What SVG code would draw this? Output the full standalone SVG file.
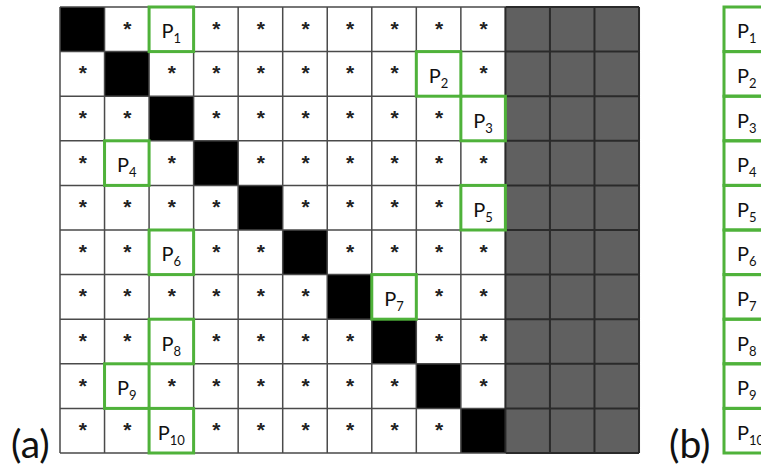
<svg xmlns="http://www.w3.org/2000/svg" width="761" height="468" viewBox="0 0 761 468">
<style>
.g{stroke:#4a4a4a;stroke-width:1.5;fill:none}
.gd{stroke:#2a2a2a;stroke-width:2;fill:none}
.st{font-family:"Liberation Sans",Arial,sans-serif;font-weight:bold;font-size:21px;fill:#222;text-anchor:middle}
.p{font-family:Lato,"Open Sans",sans-serif;font-size:20px;fill:#111}
.pm{text-anchor:middle}
.sub{font-size:13px}
.box{fill:none;stroke:#4fb23a;stroke-width:3}
.lab{font-family:Lato,"Open Sans",sans-serif;font-size:39px;fill:#111}
</style>
<rect width="761" height="468" fill="#fff"/>
<g id="matrix">
<rect x="60" y="7" width="445.4" height="446" fill="#fff"/>
<rect x="505.4" y="7" width="133.62" height="446" fill="#606060"/>
<g id="diag" fill="#000">
<rect x="60" y="7" width="44.54" height="44.6"/>
<rect x="104.54" y="51.6" width="44.54" height="44.6"/>
<rect x="149.08" y="96.2" width="44.54" height="44.6"/>
<rect x="193.62" y="140.8" width="44.54" height="44.6"/>
<rect x="238.16" y="185.4" width="44.54" height="44.6"/>
<rect x="282.7" y="230" width="44.54" height="44.6"/>
<rect x="327.24" y="274.6" width="44.54" height="44.6"/>
<rect x="371.78" y="319.2" width="44.54" height="44.6"/>
<rect x="416.32" y="363.8" width="44.54" height="44.6"/>
<rect x="460.86" y="408.4" width="44.54" height="44.6"/>
</g>
<g id="gridlines">
<path class="g" d="M60 7V453M104.54 7V453M149.08 7V453M193.62 7V453M238.16 7V453M282.7 7V453M327.24 7V453M371.78 7V453M416.32 7V453M460.86 7V453M60 7H505.4M60 51.6H505.4M60 96.2H505.4M60 140.8H505.4M60 185.4H505.4M60 230H505.4M60 274.6H505.4M60 319.2H505.4M60 363.8H505.4M60 408.4H505.4M60 453H505.4"/>
<path class="gd" d="M505.4 7V453M549.94 7V453M594.48 7V453M639.02 7V453M505.4 7H639.02M505.4 51.6H639.02M505.4 96.2H639.02M505.4 140.8H639.02M505.4 185.4H639.02M505.4 230H639.02M505.4 274.6H639.02M505.4 319.2H639.02M505.4 363.8H639.02M505.4 408.4H639.02M505.4 453H639.02"/>
</g>
<g id="stars">
<text class="st" x="127.3 216.4 260.9 305.5 350 394.5 439.1 483.6" y="35.8">********</text>
<text class="st" x="82.8 171.9 216.4 260.9 305.5 350 394.5 483.6" y="80.4">********</text>
<text class="st" x="82.8 127.3 216.4 260.9 305.5 350 394.5 439.1" y="125">********</text>
<text class="st" x="82.8 171.9 260.9 305.5 350 394.5 439.1 483.6" y="169.6">********</text>
<text class="st" x="82.8 127.3 171.9 216.4 305.5 350 394.5 439.1" y="214.2">********</text>
<text class="st" x="82.8 127.3 216.4 260.9 350 394.5 439.1 483.6" y="258.8">********</text>
<text class="st" x="82.8 127.3 171.9 216.4 260.9 305.5 439.1 483.6" y="303.4">********</text>
<text class="st" x="82.8 127.3 216.4 260.9 305.5 350 439.1 483.6" y="348">********</text>
<text class="st" x="82.8 171.9 216.4 260.9 305.5 350 394.5 483.6" y="392.6">********</text>
<text class="st" x="82.8 127.3 216.4 260.9 305.5 350 394.5 439.1" y="437.2">********</text>
</g>
<g id="pcells">
<rect class="box" x="149.08" y="7" width="44.54" height="44.6"/>
<rect class="box" x="416.32" y="51.6" width="44.54" height="44.6"/>
<rect class="box" x="460.86" y="96.2" width="44.54" height="44.6"/>
<rect class="box" x="104.54" y="140.8" width="44.54" height="44.6"/>
<rect class="box" x="460.86" y="185.4" width="44.54" height="44.6"/>
<rect class="box" x="149.08" y="230" width="44.54" height="44.6"/>
<rect class="box" x="371.78" y="274.6" width="44.54" height="44.6"/>
<rect class="box" x="149.08" y="319.2" width="44.54" height="44.6"/>
<rect class="box" x="104.54" y="363.8" width="44.54" height="44.6"/>
<rect class="box" x="149.08" y="408.4" width="44.54" height="44.6"/>
<text class="p pm" x="171.35" y="38.3">P<tspan class="sub" dy="5">1</tspan></text>
<text class="p pm" x="438.59" y="82.9">P<tspan class="sub" dy="5">2</tspan></text>
<text class="p pm" x="483.13" y="127.5">P<tspan class="sub" dy="5">3</tspan></text>
<text class="p pm" x="126.81" y="172.1">P<tspan class="sub" dy="5">4</tspan></text>
<text class="p pm" x="483.13" y="216.7">P<tspan class="sub" dy="5">5</tspan></text>
<text class="p pm" x="171.35" y="261.3">P<tspan class="sub" dy="5">6</tspan></text>
<text class="p pm" x="394.05" y="305.9">P<tspan class="sub" dy="5">7</tspan></text>
<text class="p pm" x="171.35" y="350.5">P<tspan class="sub" dy="5">8</tspan></text>
<text class="p pm" x="126.81" y="395.1">P<tspan class="sub" dy="5">9</tspan></text>
<text class="p pm" x="171.35" y="439.7">P<tspan class="sub" dy="5">10</tspan></text>
</g>
</g>
<g id="column-b">
<rect class="box" x="724" y="7" width="50" height="44.6"/>
<rect class="box" x="724" y="51.6" width="50" height="44.6"/>
<rect class="box" x="724" y="96.2" width="50" height="44.6"/>
<rect class="box" x="724" y="140.8" width="50" height="44.6"/>
<rect class="box" x="724" y="185.4" width="50" height="44.6"/>
<rect class="box" x="724" y="230" width="50" height="44.6"/>
<rect class="box" x="724" y="274.6" width="50" height="44.6"/>
<rect class="box" x="724" y="319.2" width="50" height="44.6"/>
<rect class="box" x="724" y="363.8" width="50" height="44.6"/>
<rect class="box" x="724" y="408.4" width="50" height="44.6"/>
<text class="p" x="737" y="38.3">P<tspan class="sub" dy="5">1</tspan></text>
<text class="p" x="737" y="82.9">P<tspan class="sub" dy="5">2</tspan></text>
<text class="p" x="737" y="127.5">P<tspan class="sub" dy="5">3</tspan></text>
<text class="p" x="737" y="172.1">P<tspan class="sub" dy="5">4</tspan></text>
<text class="p" x="737" y="216.7">P<tspan class="sub" dy="5">5</tspan></text>
<text class="p" x="737" y="261.3">P<tspan class="sub" dy="5">6</tspan></text>
<text class="p" x="737" y="305.9">P<tspan class="sub" dy="5">7</tspan></text>
<text class="p" x="737" y="350.5">P<tspan class="sub" dy="5">8</tspan></text>
<text class="p" x="737" y="395.1">P<tspan class="sub" dy="5">9</tspan></text>
<text class="p" x="737" y="439.7">P<tspan class="sub" dy="5">10</tspan></text>
</g>
<g id="labels">
<text class="lab" x="11" y="458">(a)</text>
<text class="lab" x="669" y="458">(b)</text>
</g>
</svg>
